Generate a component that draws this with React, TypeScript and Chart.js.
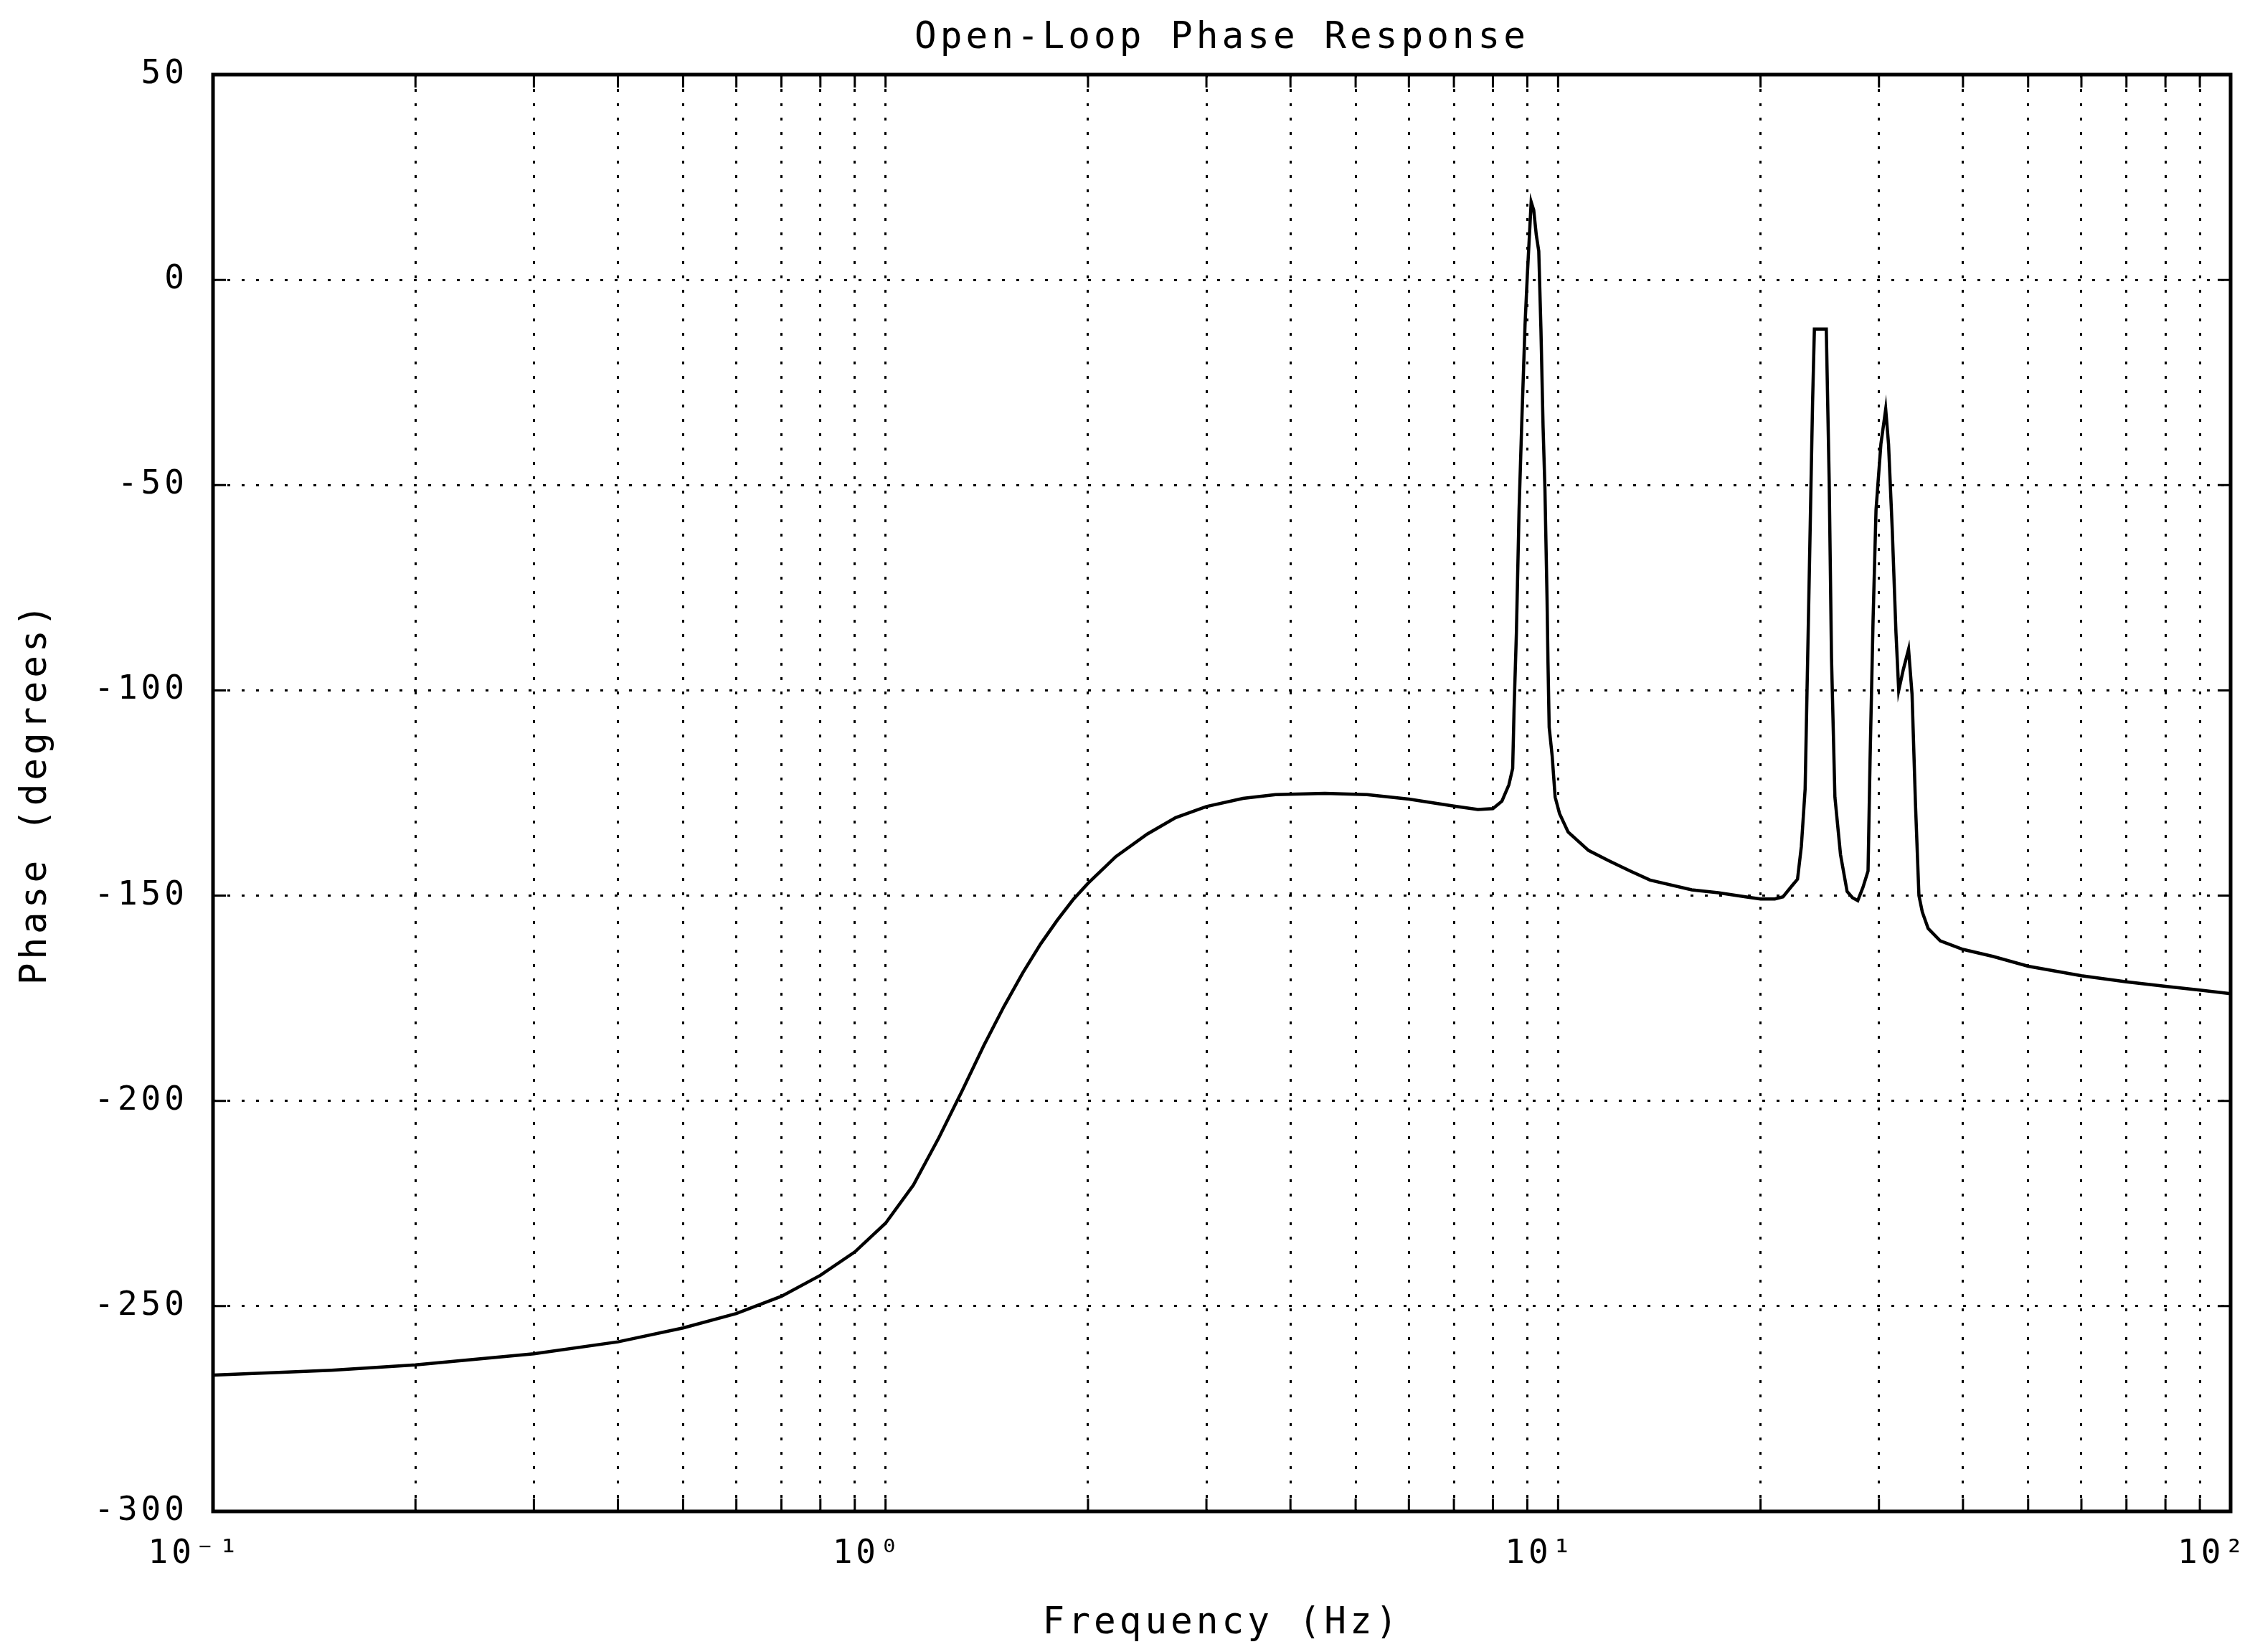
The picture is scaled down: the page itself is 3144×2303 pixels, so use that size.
import React, { useEffect, useRef } from "react";
import { Chart, registerables } from "chart.js";

Chart.register(...registerables);

// ---- data ----
const freqHz = [
  0.1, 0.15, 0.2, 0.3, 0.4, 0.5, 0.6, 0.7, 0.8, 0.9,
  1.0, 1.1, 1.2, 1.3, 1.4, 1.5, 1.6, 1.7, 1.8, 1.9,
  2.0, 2.2, 2.45, 2.7, 3.0, 3.4, 3.8, 4.5, 5.2, 6.0,
  7.0, 7.6, 8.0, 8.25, 8.45, 8.56, 8.6, 8.67, 8.75, 8.83,
  8.93, 9.0, 9.12, 9.2, 9.28, 9.36, 9.43, 9.5, 9.56, 9.63,
  9.66, 9.7, 9.8, 9.9, 10.05, 10.35, 11.1, 11.9, 12.8, 13.7,
  15.8, 17.3, 19, 20, 21, 21.6, 22.3, 22.7, 23.0, 23.3,
  23.6, 23.9, 24.05, 25.05, 25.3, 25.5, 25.8, 26.3, 26.9, 27.4,
  27.9, 28.4, 28.9, 29.1, 29.4, 29.7, 30.2, 30.7, 31.0, 31.4,
  31.8, 32.1, 32.6, 33.2, 33.6, 34.0, 34.4, 34.8, 35.5, 37,
  40, 44.3, 50, 60, 70, 80, 90, 100,
];
const phaseDeg = [
  -266.8, -265.6, -264.3, -261.6, -258.7, -255.3, -251.8, -247.6, -242.5, -236.8,
  -229.8, -220.5, -209, -197.5, -186.5, -177, -168.8, -161.8, -156, -151,
  -147, -140.5, -135, -131, -128.3, -126.3, -125.4, -125.1, -125.4, -126.5,
  -128.2, -129, -128.8, -127, -123, -119, -105, -86, -56, -35,
  -11, 1, 19, 17, 11, 7, -12, -36, -51, -78,
  -93, -109, -116, -126, -130, -134.5, -139, -141.5, -144, -146.2,
  -148.6, -149.3, -150.3, -150.8, -150.8, -150.3, -147.5, -146, -138, -124,
  -77, -30, -12, -12, -49, -92, -126, -140, -149, -150.5,
  -151.2, -148, -144, -117, -83, -56, -40, -31.5, -40, -61,
  -86, -100, -95, -90, -101, -128, -150, -154, -158, -161,
  -163.1, -164.8, -167.2, -169.5, -171, -172.1, -173, -173.9,
];

const decadeValues = [0.1, 1, 10, 100];
const decadeLabels = ["10\u207B\u00B9", "10\u2070", "10\u00B9", "10\u00B2"];
const minorSteps = [1, 2, 3, 4, 5, 6, 7, 8, 9];
const yMin = -300;
const yMax = 50;
const yStep = 50;

const titleText = "Open-Loop Phase Response";
const xTitle = "Frequency (Hz)";
const yTitle = "Phase (degrees)";

const FONT = '"DejaVu Sans Mono", "Liberation Mono", monospace';

const xTickValues: number[] = [];
decadeValues.slice(0, 3).forEach((d) => minorSteps.forEach((m) => xTickValues.push(+(d * m).toPrecision(3))));
xTickValues.push(100);

function labelFor(v: number): string {
  for (let i = 0; i < decadeValues.length; i++) {
    if (Math.abs(v - decadeValues[i]) / decadeValues[i] < 1e-6) return decadeLabels[i];
  }
  return "";
}

const spacing = (chart: any) => {
  try {
    chart.ctx.letterSpacing = "5px";
  } catch (e) {}
};

const spacingPlugin = {
  id: "letterSpacingPlugin",
  beforeInit: spacing,
  beforeUpdate: spacing,
  beforeLayout: spacing,
  beforeDraw: spacing,
};

const framePlugin = {
  id: "framePlugin",
  afterDraw(chart: any) {
    const { ctx, chartArea, scales } = chart;
    const { left, top, right, bottom } = chartArea;
    const xs = scales.x;
    const ys = scales.y;
    ctx.save();
    ctx.setLineDash([]);
    ctx.strokeStyle = "#000";
    ctx.lineWidth = 3;
    const tl = 18;
    xTickValues.forEach((v) => {
      const px = xs.getPixelForValue(v);
      ctx.beginPath();
      ctx.moveTo(px, bottom);
      ctx.lineTo(px, bottom - tl);
      ctx.moveTo(px, top);
      ctx.lineTo(px, top + tl);
      ctx.stroke();
    });
    ys.ticks.forEach((t: any) => {
      const py = ys.getPixelForValue(t.value);
      ctx.beginPath();
      ctx.moveTo(left, py);
      ctx.lineTo(left + tl, py);
      ctx.moveTo(right, py);
      ctx.lineTo(right - tl, py);
      ctx.stroke();
    });
    ctx.lineWidth = 5;
    ctx.strokeRect(left, top, right - left, bottom - top);
    // title centred over the plot area
    ctx.fillStyle = "#000";
    ctx.font = `51px ${FONT}`;
    ctx.textAlign = "center";
    ctx.textBaseline = "middle";
    ctx.fillText(titleText, (left + right) / 2, 46);
    ctx.restore();
  },
};

export default function App() {
  const canvasRef = useRef<HTMLCanvasElement | null>(null);

  useEffect(() => {
    if (!canvasRef.current) return;
    const points = freqHz.map((f, i) => ({ x: f, y: phaseDeg[i] }));
    const chart = new Chart(canvasRef.current, {
      type: "line",
      data: {
        datasets: [
          {
            data: points,
            borderColor: "#000",
            borderWidth: 4.5,
            pointRadius: 0,
            tension: 0,
            fill: false,
          },
        ],
      },
      options: {
        animation: false,
        responsive: false,
        maintainAspectRatio: false,
        devicePixelRatio: 1,
        layout: { padding: { left: 0, right: 26, top: 96, bottom: 0 } },
        plugins: {
          legend: { display: false },
          title: { display: false },
          tooltip: { enabled: false },
        },
        scales: {
          x: {
            type: "logarithmic",
            min: 0.1,
            max: 100,
            afterBuildTicks(scale: any) {
              scale.ticks = xTickValues.map((v) => ({ value: v }));
            },
            afterFit(scale: any) {
              scale.height = 188;
              scale.paddingLeft = 0;
              scale.paddingRight = 0;
            },
            grid: {
              color: "#000",
              lineWidth: 3,
              drawTicks: false,
            },
            border: { display: false, dash: [4, 16] },
            ticks: {
              autoSkip: false,
              maxRotation: 0,
              minRotation: 0,
              padding: 32,
              labelOffset: -25,
              color: "#000",
              font: { family: FONT, size: 46 },
              callback: (v: any) => labelFor(Number(v)),
            },
            title: {
              display: true,
              text: xTitle,
              color: "#000",
              font: { family: FONT, size: 51 },
              padding: { top: 0, bottom: 1 },
            },
          },
          y: {
            type: "linear",
            min: yMin,
            max: yMax,
            afterFit(scale: any) {
              scale.width = 289;
              scale.paddingTop = 0;
              scale.paddingBottom = 0;
            },
            grid: {
              color: "#000",
              lineWidth: 3,
              drawTicks: false,
            },
            border: { display: false, dash: [4, 16] },
            ticks: {
              stepSize: yStep,
              padding: 35,
              color: "#000",
              font: { family: FONT, size: 46 },
            },
            title: {
              display: true,
              text: yTitle,
              color: "#000",
              font: { family: FONT, size: 51 },
              padding: { top: 12, bottom: 0 },
            },
          },
        },
      },
      plugins: [spacingPlugin, framePlugin],
    });
    return () => chart.destroy();
  }, []);

  return (
    <div style={{ width: 3128, height: 2287, background: "#fff" }}>
      <canvas ref={canvasRef} width={3128} height={2287} style={{ width: 3128, height: 2287, display: "block" }} />
    </div>
  );
}
